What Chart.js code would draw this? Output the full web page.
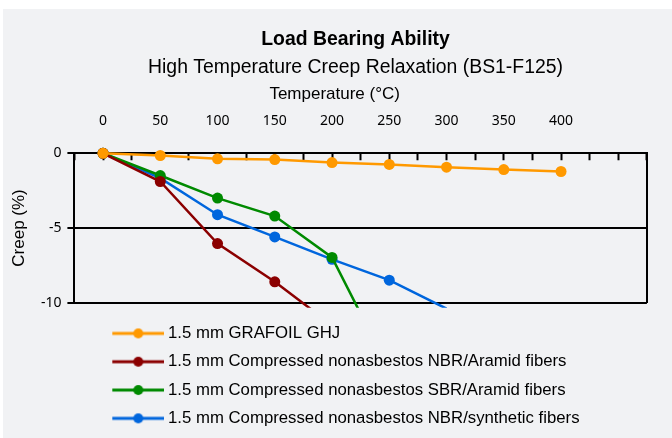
<!DOCTYPE html>
<html>
<head>
<meta charset="utf-8">
<script src="https://cdn.jsdelivr.net/npm/chart.js@4.4.1/dist/chart.umd.min.js"></script>
<style>
  html, body { margin: 0; padding: 0; background: #fff; }
  #wrap { position: absolute; left: 3px; top: 9px; width: 669px; height: 429px; background: #f1f2f4; }
</style>
</head>
<body>
<div id="wrap"><canvas id="myChart" width="669" height="429"></canvas></div>
<script>
// temperatures (°C) and creep (%)
var temps = [0, 50, 100, 150, 200, 250, 300, 350, 400];
var grafoil = [0, -0.15, -0.37, -0.42, -0.62, -0.75, -0.93, -1.09, -1.22];
var nbrAramid = [0, -1.89, -6.04, -8.6, -11.5];
var sbrAramid = [0, -1.49, -3.0, -4.2, -6.97, -14.5];
var nbrSynthetic = [0, -1.67, -4.11, -5.6, -7.1, -8.49, -10.4];
var seriesNames = [
  '1.5 mm GRAFOIL GHJ',
  '1.5 mm Compressed nonasbestos NBR/Aramid fibers',
  '1.5 mm Compressed nonasbestos SBR/Aramid fibers',
  '1.5 mm Compressed nonasbestos NBR/synthetic fibers'
];
var seriesColors = ['#ff9900', '#8b0000', '#008a00', '#0066dd'];
var xTickLabels = [0, 50, 100, 150, 200, 250, 300, 350, 400];
var yTickLabels = [0, -5, -10];

Chart.defaults.color = '#000';
Chart.defaults.font.family = '"Liberation Sans", Arial, sans-serif';

function toPoints(vals) {
  return vals.map(function (v, i) { return { x: temps[i], y: v }; });
}

// legend symbol: line with a dot in the middle
function legendSymbol(color) {
  var c = document.createElement('canvas');
  c.width = 83; c.height = 14;
  var g = c.getContext('2d');
  g.strokeStyle = color;
  g.lineWidth = 3;
  g.beginPath(); g.moveTo(31, 7); g.lineTo(83, 7); g.stroke();
  g.fillStyle = color;
  g.beginPath(); g.arc(57, 7, 5, 0, Math.PI * 2); g.fill();
  return c;
}
var symbols = seriesColors.map(legendSymbol);

var allSeries = [grafoil, nbrAramid, sbrAramid, nbrSynthetic];
var datasets = allSeries.map(function (vals, i) {
  return {
    label: seriesNames[i],
    data: toPoints(vals),
    borderColor: seriesColors[i],
    backgroundColor: seriesColors[i],
    borderWidth: 2.5,
    pointRadius: 5.5,
    pointBorderWidth: 0,
    clip: { left: 8, top: 8, right: 8, bottom: 5 }
  };
});

var ctx = document.getElementById('myChart').getContext('2d');
var myChart = new Chart(ctx, {
  type: 'line',
  data: { datasets: datasets },
  options: {
    responsive: false,
    animation: false,
    layout: { padding: { left: 36, bottom: 1.3 } },
    scales: {
      x: {
        type: 'linear',
        position: 'top',
        min: -25,
        max: 475,
        afterFit: function (s) { s.height = 74.3; s.paddingLeft = 0; s.paddingRight = 0; },
        title: {
          display: true,
          text: 'Temperature (°C)\u00a0\u00a0\u00a0\u00a0\u00a0\u00a0\u00a0\u00a0\u00a0\u00a0\u00a0',
          font: { size: 17 },
          padding: { top: 5.4, bottom: 0 }
        },
        ticks: {
          stepSize: 25,
          autoSkip: false,
          maxRotation: 0,
          padding: 30.8,
          font: { family: '"Noto Sans", sans-serif', size: 14 },
          callback: function (v) { return xTickLabels.indexOf(v) >= 0 ? String(v) : ''; }
        },
        grid: { drawOnChartArea: false, tickLength: -7, tickColor: '#000', tickWidth: 2 },
        border: { color: '#000', width: 2 }
      },
      xb: {
        type: 'linear',
        position: 'bottom',
        afterFit: function (s) { s.height = 10.8; s.paddingLeft = 0; s.paddingRight = 0; },
        ticks: { display: false },
        grid: { display: false },
        border: { display: false }
      },
      y: {
        min: -10,
        max: 0,
        afterFit: function (s) { s.width = 35.4; },
        title: {
          display: true,
          text: 'Creep (%)',
          font: { size: 17 },
          padding: { top: -29.7, bottom: 0 }
        },
        ticks: {
          stepSize: 5,
          padding: 6,
          font: { family: '"Noto Sans", sans-serif', size: 14 },
          callback: function (v) { return yTickLabels.indexOf(v) >= 0 ? String(v) : ''; }
        },
        grid: { color: '#000', lineWidth: 2, tickLength: 7 },
        border: { color: '#000', width: 2 }
      },
      y2: {
        position: 'right',
        display: true,
        afterFit: function (s) { s.width = 25.1; },
        ticks: { display: false },
        grid: { display: true, drawOnChartArea: false, drawTicks: false },
        border: { display: true, color: '#000', width: 2 }
      }
    },
    plugins: {
      title: {
        display: true,
        text: 'Load Bearing Ability',
        font: { size: 19.4, weight: 'bold' },
        padding: { top: 19.4, bottom: 0 }
      },
      subtitle: {
        display: true,
        text: 'High Temperature Creep Relaxation (BS1-F125)',
        font: { size: 19.4 },
        padding: { top: 4.0, bottom: 0 }
      },
      legend: {
        position: 'bottom',
        align: 'start',
        fullSize: false,
        labels: {
          usePointStyle: true,
          pointStyleWidth: 73.7,
          padding: 11.55,
          font: { size: 16.75 },
          generateLabels: function (chart) {
            var items = Chart.defaults.plugins.legend.labels.generateLabels(chart);
            items.forEach(function (it, i) { it.pointStyle = symbols[i]; });
            return items;
          }
        }
      },
      tooltip: { enabled: false }
    }
  }
});
</script>
</body>
</html>
